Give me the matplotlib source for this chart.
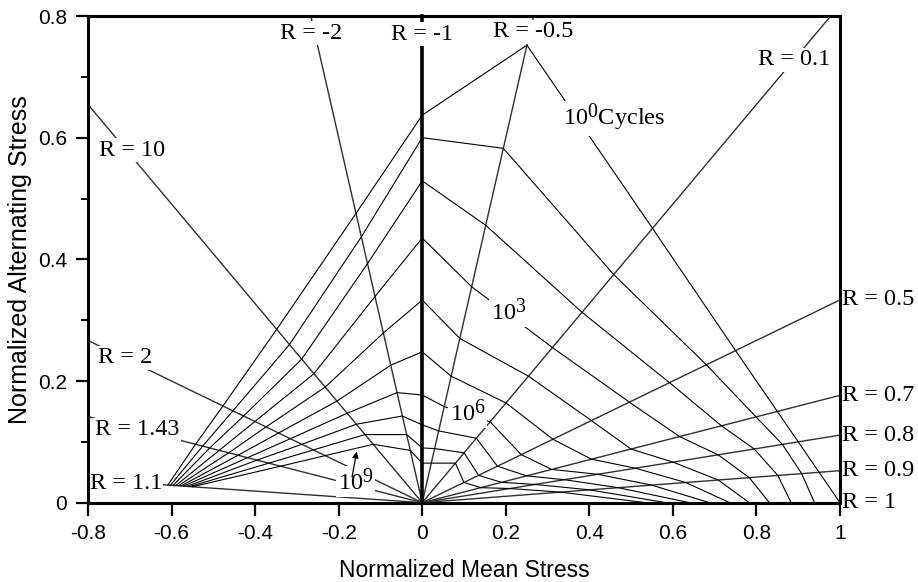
import numpy as np
import matplotlib
matplotlib.use("Agg")
import matplotlib.pyplot as plt
from matplotlib.ticker import MultipleLocator

plt.rcParams['mathtext.default'] = 'regular'
try:
    import matplotlib._mathtext as _mt
    _mt.SHRINK_FACTOR = 0.82
except Exception:
    pass

# ---------------- data ----------------
# R-ratio rays, in the order the constant-life lines pass through them
ray_R = [1.1, 1.43, 2, 10, -2, -1, -0.5, 0.1, 0.5, 0.7, 0.8, 0.9]
cycle_exponents = [0, 1, 2, 3, 4, 5, 6, 7, 8, 9]

# normalized alternating stress where each constant-life line (10^0 ... 10^9) meets each ray
amp_R1p1  = [0.0290, 0.0287, 0.0284, 0.0281, 0.0278, 0.0275, 0.0272, 0.0268, 0.0265, 0.0262]
amp_R1p43 = [0.096, 0.093, 0.090, 0.086, 0.082, 0.078, 0.074, 0.070, 0.065, 0.060]
amp_R2    = [0.159, 0.151, 0.1425, 0.1335, 0.1246, 0.1146, 0.1052, 0.096, 0.0868, 0.0774]
amp_R10   = [0.285, 0.260, 0.236, 0.212, 0.190, 0.167, 0.147, 0.129, 0.112, 0.096]
amp_Rm2   = [0.4755, 0.437, 0.393, 0.339, 0.279, 0.226, 0.181, 0.1425, 0.112, 0.086]
amp_Rm1   = [0.637, 0.600, 0.529, 0.435, 0.333, 0.248, 0.177, 0.128, 0.090, 0.065]
amp_Rm0p5 = [0.752, 0.5825, 0.456, 0.355, 0.270, 0.208, 0.158, 0.118, 0.089, 0.065]
amp_R0p1  = [0.451, 0.375, 0.313, 0.255, 0.208, 0.164, 0.133, 0.106, 0.082, 0.065]
amp_R0p5  = [0.250, 0.2267, 0.1973, 0.1653, 0.135, 0.1043, 0.079, 0.060, 0.045, 0.0333]
amp_R0p7  = [0.150, 0.141, 0.1264, 0.1087, 0.0882, 0.0715, 0.0547, 0.0441, 0.0335, 0.0247]
amp_R0p8  = [0.100, 0.0958, 0.0883, 0.0787, 0.0667, 0.0567, 0.0467, 0.0378, 0.030, 0.0233]
amp_R0p9  = [0.050, 0.0478, 0.0448, 0.0412, 0.0373, 0.0332, 0.0289, 0.0247, 0.0211, 0.0174]
# normalized mean stress where each line reaches R = 1 (zero amplitude)
mean_R1   = [1.000, 0.939, 0.883, 0.831, 0.783, 0.736, 0.688, 0.640, 0.584, 0.536]

amp_table = [amp_R1p1, amp_R1p43, amp_R2, amp_R10, amp_Rm2, amp_Rm1,
             amp_Rm0p5, amp_R0p1, amp_R0p5, amp_R0p7, amp_R0p8, amp_R0p9]

# R rays drawn as straight lines from the origin
drawn_R = [1.1, 1.43, 2, 10, -2, -0.5, 0.1, 0.5, 0.7, 0.8, 0.9]
right_labels_R = [0.5, 0.7, 0.8, 0.9, 1]

x_ticks = [-0.8, -0.6, -0.4, -0.2, 0, 0.2, 0.4, 0.6, 0.8, 1]
x_tick_labels = ['-0.8', '-0.6', '-0.4', '-0.2', '0', '0.2', '0.4', '0.6', '0.8', '1']
y_ticks = [0, 0.2, 0.4, 0.6, 0.8]
y_tick_labels = ['0', '0.2', '0.4', '0.6', '0.8']


def ray_dir(R):
    """direction (mean, amplitude) of a constant-R ray"""
    s = -1.0 if R > 1 else 1.0
    return s * (1 + R) / 2.0, abs(1 - R) / 2.0


def mean_from_amp(R, a):
    m, am = ray_dir(R)
    return a * m / am


# ---------------- figure ----------------
W, H = 918, 582
fig = plt.figure(figsize=(W / 100, H / 100), dpi=100)
ax = fig.add_axes([88 / W, 1 - 502.7 / H, (840 - 88) / W, (502.7 - 16) / H])
ax.set_xlim(-0.8, 1)
ax.set_ylim(0, 0.8)

serif = ['Liberation Serif', 'DejaVu Serif']
sans = ['Liberation Sans Narrow', 'Liberation Sans', 'DejaVu Sans']
FS = 17.5

# R rays
for R in drawn_R:
    m, a = ray_dir(R)
    if R == 1.1:
        t = 0.625 / abs(m)
    else:
        t = 5.0 / max(abs(m), a)
    ax.plot([0, m * t], [0, a * t], color='#303030', lw=1.0, zorder=2, solid_capstyle='butt')
# R = -1 (thick vertical)
ax.plot([0, 0], [0, 0.8], color='black', lw=2.6, zorder=3, clip_on=False)

# constant life lines
for k in range(len(cycle_exponents)):
    xs, ys = [], []
    for R, amps in zip(ray_R, amp_table):
        xs.append(mean_from_amp(R, amps[k]))
        ys.append(amps[k])
    xs.append(mean_R1[k])
    ys.append(0.0)
    ax.plot(xs, ys, color='black', lw=0.8, zorder=2)

# spines and ticks
for sp in ax.spines.values():
    sp.set_linewidth(2.2)
    sp.set_zorder(6)
ax.set_xticks(x_ticks)
ax.set_xticklabels(x_tick_labels)
ax.set_yticks(y_ticks)
ax.set_yticklabels(y_tick_labels)
ax.yaxis.set_minor_locator(MultipleLocator(0.1))
ax.tick_params(axis='both', which='major', direction='out', length=9, width=1.6,
               labelsize=15, pad=6)
ax.tick_params(axis='y', which='minor', direction='out', length=5, width=1.4)
for lab in ax.get_xticklabels() + ax.get_yticklabels():
    lab.set_fontfamily(sans)

ax.set_xlabel('Normalized Mean Stress', fontsize=16.5, family=sans, labelpad=12)
ax.set_ylabel('Normalized Alternating Stress', fontsize=18, family=sans, labelpad=4)

box = dict(facecolor='white', edgecolor='none', pad=1.0)


def lab(x, y, s, ha='center', va='center', bbox=True):
    ax.text(x, y, s, fontsize=FS, family=serif, ha=ha, va=va, zorder=5,
            bbox=box if bbox else None)


lab(-0.2667, 0.772, 'R = -2')
lab(0.0, 0.770, 'R = -1')
lab(0.2667, 0.774, 'R = -0.5')
lab(0.889, 0.728, 'R = 0.1')
lab(-0.695, 0.579, 'R = 10')
lab(-0.712, 0.238, 'R = 2')
lab(-0.683, 0.120, 'R = 1.43')
lab(-0.623, 0.031, 'R = 1.1', ha='right')
lab(0.338, 0.632, r'10$^{0}$Cycles', ha='left')
lab(0.207, 0.314, r'10$^{3}$')
lab(0.109, 0.148, r'10$^{6}$')
lab(-0.160, 0.035, r'10$^{9}$')

ax.annotate('', xy=(-0.157, 0.084), xytext=(-0.168, 0.042),
            arrowprops=dict(arrowstyle='-|>', color='black', lw=0.9,
                            mutation_scale=9, shrinkA=0, shrinkB=0), zorder=5)

for R in right_labels_R:
    m, a = ray_dir(R)
    yv = a / m
    ax.text(1.003, yv, 'R = %g' % R, fontsize=FS, family=serif, ha='left',
            va='center', transform=ax.get_yaxis_transform(), clip_on=False)

fig.savefig('out.png', dpi=100)
